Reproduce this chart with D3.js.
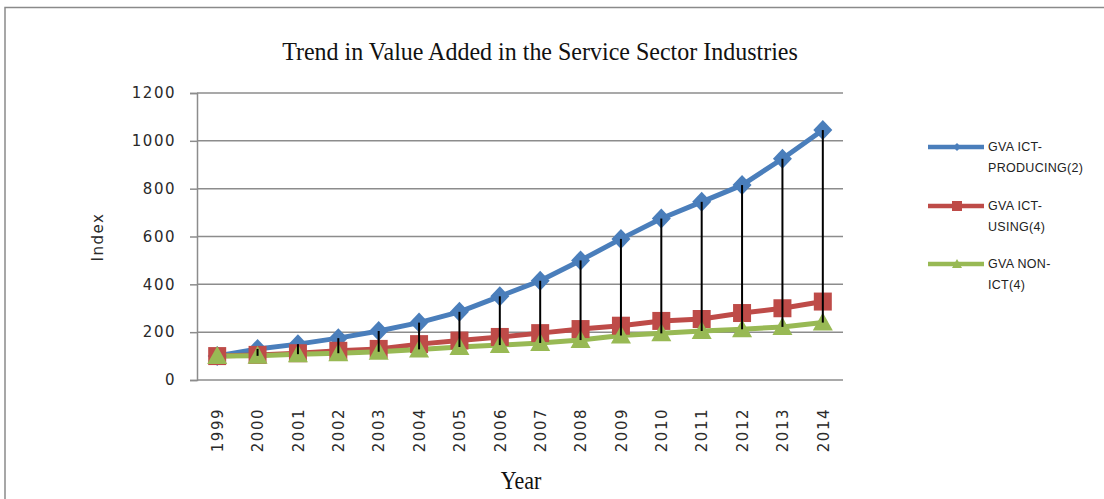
<!DOCTYPE html>
<html><head><meta charset="utf-8">
<script src="https://cdn.jsdelivr.net/npm/d3@7"></script>
<style>html,body{margin:0;padding:0;background:#fff;}svg{display:block;}</style>
</head><body>
<svg id="c" width="1104" height="499"></svg>
<script>
const years = ["1999","2000","2001","2002","2003","2004","2005","2006","2007","2008","2009","2010","2011","2012","2013","2014"];
const gvaIctProducing = [100,130,150,175,205,240,285,350,415,500,590,675,745,815,925,1045];
const gvaIctUsing = [100,105,112,122,130,150,165,180,196,213,227,247,255,280,300,328];
const gvaNonIct = [100,101,108,112,118,128,138,146,155,167,186,195,205,212,222,240];
const seriesNames = ["GVA ICT-|PRODUCING(2)","GVA ICT-|USING(4)","GVA NON-|ICT(4)"];
const seriesColors = ["#4a7ebb","#be4b48","#98b954"];
const yTicks = [0,200,400,600,800,1000,1200];
const title = "Trend in Value Added in the Service Sector Industries";

const svg = d3.select("#c");
// outer frame
svg.append("path").attr("d","M5,499 V7.5 H1104").attr("fill","none").attr("stroke","#8a8a8a").attr("stroke-width",1.5);

const x = d3.scalePoint().domain(years).range([197,843]).padding(0.5);
const y = d3.scaleLinear().domain([0,1200]).range([380,93]);

// gridlines
svg.append("g").selectAll("line").data(yTicks).join("line")
  .attr("x1",197).attr("x2",843).attr("y1",d=>y(d)).attr("y2",d=>y(d))
  .attr("stroke","#8c8c8c").attr("stroke-width",1.5);

// y axis
const yAxis = d3.axisLeft(y).tickValues(yTicks).tickSize(7).tickPadding(14).tickFormat(d3.format("d"));
const ya = svg.append("g").attr("transform","translate(197,0)").call(yAxis);
ya.select(".domain").attr("stroke","#8c8c8c").attr("stroke-width",1.5);
ya.selectAll(".tick line").attr("stroke","#8c8c8c").attr("stroke-width",1.5);
ya.selectAll("text").attr("font-family","DejaVu Sans").attr("font-size",15).attr("letter-spacing","1.5px").attr("fill","#2a2a2a");

// x axis labels
const xAxis = d3.axisBottom(x).tickSize(0).tickPadding(0);
const xa = svg.append("g").attr("transform","translate(0,380)").call(xAxis);
xa.select(".domain").remove();
xa.selectAll("text").attr("font-family","DejaVu Sans").attr("font-size",15).attr("letter-spacing","1.5px").attr("fill","#2a2a2a")
  .attr("text-anchor","end").attr("dy","0.35em").attr("y",0)
  .attr("transform","translate(0,28) rotate(-90)");

const data = [gvaIctProducing, gvaIctUsing, gvaNonIct];
const line = d3.line().x((d,i)=>x(years[i])).y(d=>y(d));

data.forEach((s,k)=>{
  svg.append("path").datum(s).attr("d",line).attr("fill","none")
    .attr("stroke",seriesColors[k]).attr("stroke-width",5).attr("stroke-linejoin","round");
});
data.forEach((s,k)=>{
  svg.append("g").selectAll("path").data(s).join("path")
    .attr("transform",(d,i)=>`translate(${x(years[i])},${y(d)})`)
    .attr("d",()=>{
      if(k===0) return `M0,-10 L9.5,0 L0,10 L-9.5,0 Z`;
      if(k===1) return `M-9,-9 H9 V9 H-9 Z`;
      return `M0,-10 L10,8 H-10 Z`;
    })
    .attr("fill",seriesColors[k]);
});

// high-low lines
svg.append("g").selectAll("line").data(years).join("line")
  .attr("x1",d=>x(d)).attr("x2",d=>x(d))
  .attr("y1",(d,i)=>y(Math.max(gvaIctProducing[i],gvaIctUsing[i],gvaNonIct[i])))
  .attr("y2",(d,i)=>y(Math.min(gvaIctProducing[i],gvaIctUsing[i],gvaNonIct[i])))
  .attr("stroke","#000").attr("stroke-width",2);

// titles
svg.append("text").attr("transform","translate(540,60) scale(1,1.05)").attr("text-anchor","middle")
  .attr("font-family","Liberation Serif").attr("font-size",24).attr("fill","#111").text(title);
svg.append("text").attr("transform","translate(521,489) scale(1,1.15)").attr("text-anchor","middle")
  .attr("font-family","Liberation Serif").attr("font-size",22).attr("fill","#111").text("Year");
svg.append("text").attr("transform","translate(103,237) rotate(-90)").attr("text-anchor","middle")
  .attr("font-family","DejaVu Sans").attr("font-size",15).attr("letter-spacing","1.5px").attr("fill","#2a2a2a").text("Index");

// legend
const legY = [147, 206, 264];
seriesNames.forEach((n,k)=>{
  const g = svg.append("g").attr("transform",`translate(0,${legY[k]})`);
  g.append("line").attr("x1",928).attr("x2",984).attr("stroke",seriesColors[k]).attr("stroke-width",4.5);
  const mk = k===0 ? "M0,-4 L4,0 L0,4 L-4,0 Z" : k===1 ? "M-5,-5 H5 V5 H-5 Z" : "M0,-5 L5,4 H-5 Z";
  g.append("path").attr("transform","translate(957,0)").attr("d",mk).attr("fill",seriesColors[k]);
  const parts = n.split("|");
  parts.forEach((p,j)=>{
    g.append("text").attr("x",988).attr("y",j*21).attr("dy","0.35em")
      .attr("font-family","Liberation Sans").attr("font-size",12.5).attr("letter-spacing","0.3px").attr("fill","#222").text(p);
  });
});
</script>
</body></html>
